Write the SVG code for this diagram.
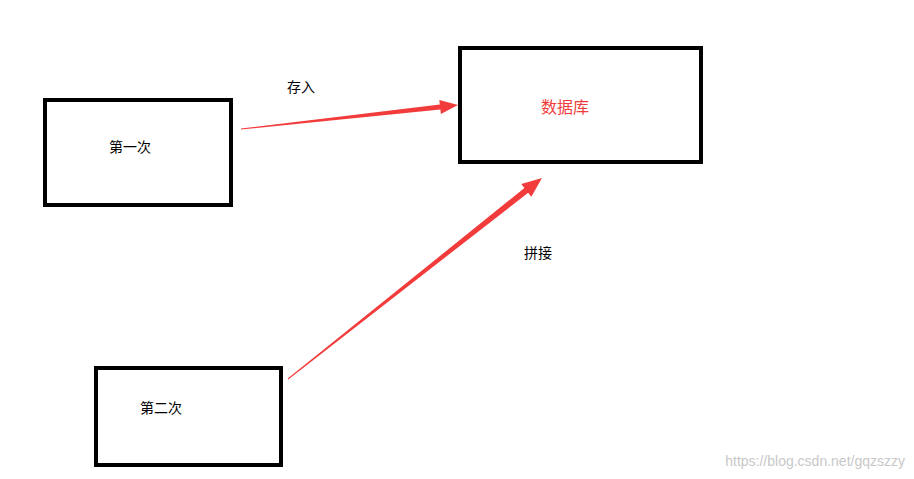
<svg xmlns="http://www.w3.org/2000/svg" width="914" height="479" viewBox="0 0 914 479">
<style>
.box{fill:none;stroke:#000;stroke-width:4}
.t{font-family:"Liberation Sans","Noto Sans CJK SC",sans-serif;font-size:14px;fill:#000;text-anchor:middle;dominant-baseline:central}
.arr{fill:#f23c3c}
</style>
<rect width="914" height="479" fill="#fff"/>
<g id="first"><rect class="box" x="45" y="100" width="186" height="105"/><text class="t" x="130" y="147">第一次</text></g>
<g id="db"><rect class="box" x="460" y="48" width="241" height="114"/><text class="t" x="565" y="107" style="fill:#f23c3c;font-size:16px">数据库</text></g>
<g id="second"><rect class="box" x="96" y="368" width="185" height="97"/><text class="t" x="161" y="408">第二次</text></g>
<g id="connectors">
<polygon class="arr" points="240.9,128.5 439.8,104.5 439.3,100.0 458,105 440.9,114.0 440.4,109.5 241.1,129.5"/>
<polygon class="arr" points="287.7,378.6 524.4,188.0 521.3,184.1 542,178 531.3,196.7 528.2,192.8 288.3,379.4"/>
<text class="t" x="301" y="87">存入</text>
<text class="t" x="538" y="253">拼接</text>
</g>
<text x="905" y="461" style="font-family:'Liberation Sans',sans-serif;font-size:14px;fill:#c8c8c8;text-anchor:end;dominant-baseline:central">https://blog.csdn.net/gqzszzy</text>
</svg>
